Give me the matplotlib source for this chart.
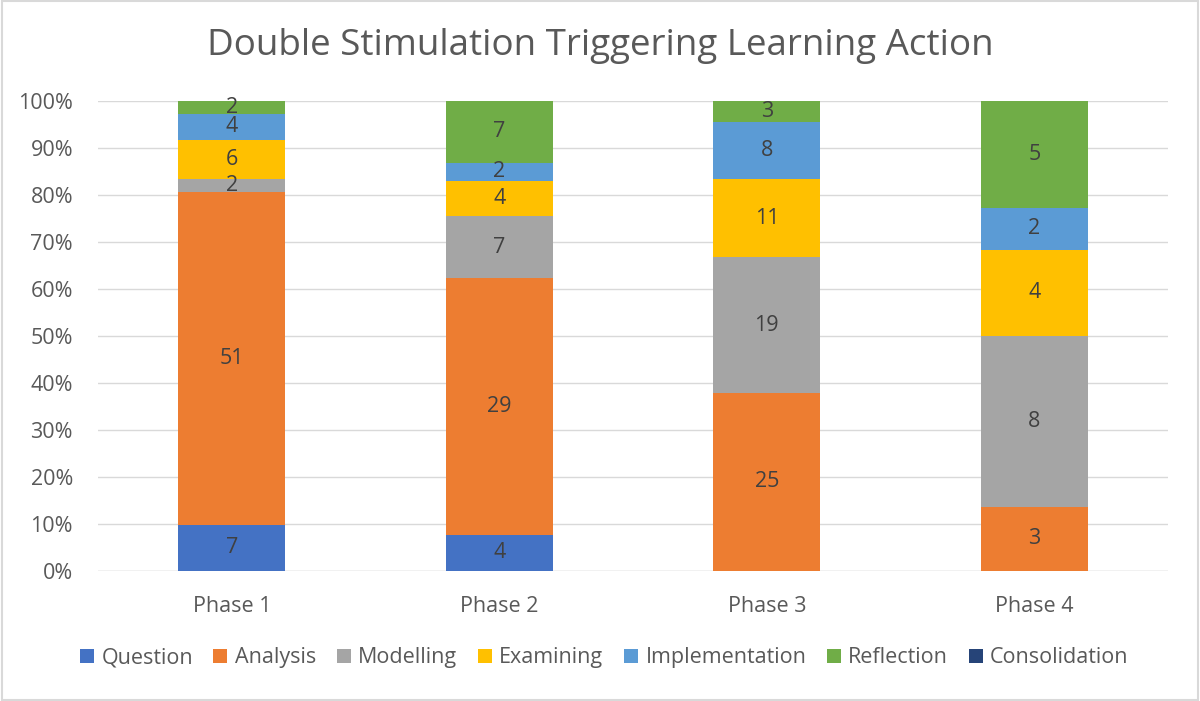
import numpy as np
import matplotlib.pyplot as plt
from matplotlib.patches import Rectangle

phases = ['Phase 1', 'Phase 2', 'Phase 3', 'Phase 4']
question = [7, 4, 0, 0]
analysis = [51, 29, 25, 3]
modelling = [2, 7, 19, 8]
examining = [6, 4, 11, 4]
implementation = [4, 2, 8, 2]
reflection = [2, 7, 3, 5]
consolidation = [0, 0, 0, 0]

series = [
    ('Question', question, '#4472C4'),
    ('Analysis', analysis, '#ED7D31'),
    ('Modelling', modelling, '#A5A5A5'),
    ('Examining', examining, '#FFC000'),
    ('Implementation', implementation, '#5B9BD5'),
    ('Reflection', reflection, '#70AD47'),
    ('Consolidation', consolidation, '#264478'),
]

plt.rcParams['font.family'] = ['Open Sans', 'DejaVu Sans']

totals = np.sum([s[1] for s in series], axis=0)

fig = plt.figure(figsize=(12, 7.01), dpi=100)
ax = fig.add_axes([0.0817, 0.1859, 0.8917, 0.6704])

x = np.arange(len(phases))
bottom = np.zeros(len(phases))
for name, vals, col in series:
    pct = np.array(vals) / totals * 100
    ax.bar(x, pct, 0.4, bottom=bottom, color=col, label=name, zorder=2)
    for i, v in enumerate(vals):
        if v > 0:
            ax.text(x[i], bottom[i] + pct[i] / 2, str(v), ha='center', va='center',
                    fontsize=15.5, color='#404040', zorder=3)
    bottom += pct

ax.set_xlim(-0.5, 3.5)
ax.set_ylim(0, 100)
ax.set_yticks(np.arange(0, 101, 10))
ax.set_yticklabels([f'{t}%' for t in range(0, 101, 10)])
ax.set_xticks(x)
ax.set_xticklabels(phases)
ax.tick_params(length=0, labelsize=15.5, labelcolor='#595959')
ax.tick_params(axis='x', pad=18)
ax.tick_params(axis='y', pad=18)
ax.grid(axis='y', color='#D9D9D9', linewidth=1, zorder=0)
for s in ax.spines.values():
    s.set_visible(False)
ax.axhline(0, color='#D9D9D9', linewidth=1, zorder=1)

fig.text(0.5, 0.935, 'Double Stimulation Triggering Learning Action', ha='center', va='center',
         fontsize=26.5, color='#595959')

ax.legend(loc='center', bbox_to_anchor=(0.5035, 0.0614), bbox_transform=fig.transFigure,
          ncol=7, frameon=False, fontsize=15.5, handlelength=0.65, handleheight=0.65,
          handletextpad=0.35, columnspacing=0.95, labelcolor='#595959')

fig.patches.append(Rectangle((0.002, 0.002), 0.996, 0.996, transform=fig.transFigure,
                             fill=False, edgecolor='#D9D9D9', linewidth=1.5))

fig.savefig('out.png', dpi=100)
